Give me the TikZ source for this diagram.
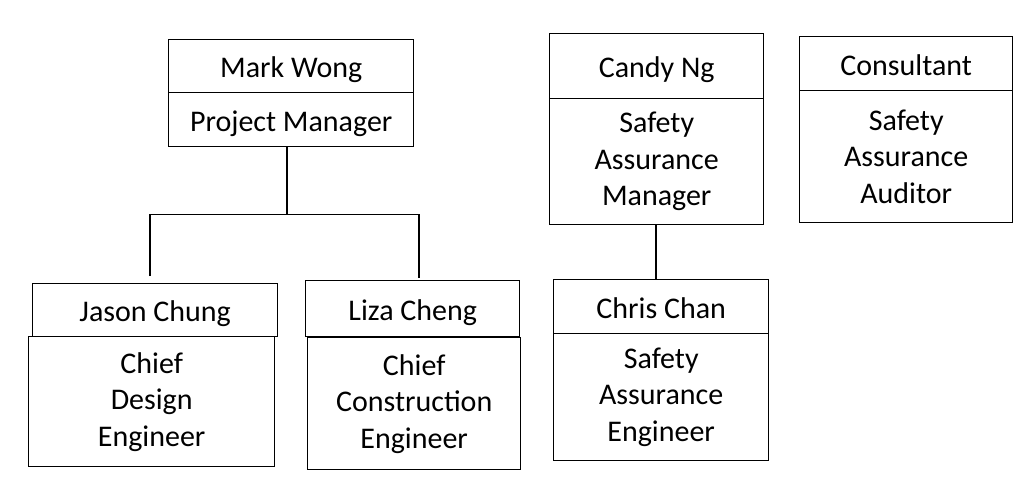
\documentclass[tikz,border=0pt]{standalone}
\usepackage{fontspec}
\setmainfont{Carlito}
\usepackage{tikz}
\usetikzlibrary{positioning,calc}
\tikzset{
  rolebox/.style ={draw=black,fill=white,line width=1.4pt,anchor=north west,
                   inner sep=0pt,align=center,font=\fontsize{30}{36.5}\selectfont},
  namebox/.style ={rolebox,text height=23pt,text depth=0pt},
  link/.style    ={draw=black,line width=1.6pt},
}

\begin{document}
\begin{tikzpicture}[x=1pt,y=-1pt]
\useasboundingbox (0,0) rectangle (1024,486);

% ---- project line ----------------------------------------------------------
\node[namebox,minimum width=245pt,minimum height=53pt] (mw) at (168,39) {Mark Wong};
\node[namebox,minimum width=245pt,minimum height=54pt] (pm) at (168,92) {Project Manager};

\node[namebox,minimum width=245pt,minimum height=53pt] (jc) at (32,283) {Jason Chung};
\node[rolebox,minimum width=246pt,minimum height=130pt] (cde) at (28,336)
  {Chief\\Design\\Engineer};

\node[namebox,minimum width=214pt,minimum height=56pt] (lc) at (305,280) {Liza Cheng};
\node[rolebox,minimum width=213pt,minimum height=132pt] (cce) at (307,337)
  {Chief\\Construction\\Engineer};

% ---- safety line -----------------------------------------------------------
\node[namebox,minimum width=214pt,minimum height=65pt] (cn) at (549,33) {Candy Ng};
\node[rolebox,minimum width=214pt,minimum height=126pt] (sam) at (549,98)
  {Safety\\Assurance\\Manager};

\node[namebox,minimum width=215pt,minimum height=54pt] (cc) at (553,279) {Chris Chan};
\node[rolebox,minimum width=215pt,minimum height=127pt] (sae) at (553,333)
  {Safety\\Assurance\\Engineer};

\node[namebox,minimum width=213pt,minimum height=54pt] (con) at (799,36) {Consultant};
\node[rolebox,minimum width=213pt,minimum height=132pt] (saa) at (799,90)
  {Safety\\Assurance\\Auditor};

% ---- connectors ------------------------------------------------------------
\coordinate (jtop) at (150,276);
\coordinate (ltop) at (419,278);
\draw[link] ([xshift=-4pt]pm.south) -- ++(0,67) coordinate (bar);
\draw[link] (jtop) |- (bar) -| (ltop);
\draw[link] (sam.south -| 656,0) -- (cc.north -| 656,0);
\end{tikzpicture}
\end{document}
